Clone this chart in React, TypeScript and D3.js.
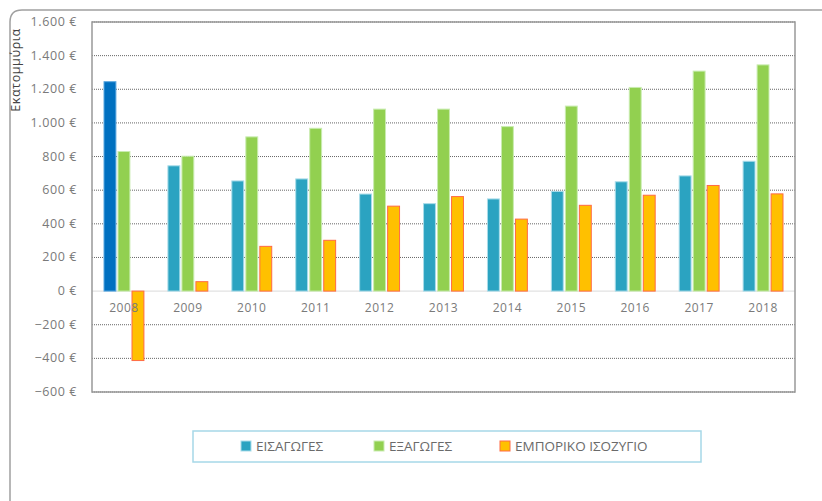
import { useMemo } from "react";
import * as d3 from "d3";

const years = ["2008", "2009", "2010", "2011", "2012", "2013", "2014", "2015", "2016", "2017", "2018"];
const imports = [1245, 745, 655, 667, 577, 520, 548, 593, 650, 685, 772];
const exports = [830, 802, 917, 968, 1082, 1082, 978, 1100, 1211, 1308, 1345];
const balance = [-413, 56, 266, 302, 505, 562, 428, 510, 570, 628, 578];
const seriesNames = ["ΕΙΣΑΓΩΓΕΣ", "ΕΞΑΓΩΓΕΣ", "ΕΜΠΟΡΙΚΟ ΙΣΟΖΥΓΙΟ"];
const yTicks = [-600, -400, -200, 0, 200, 400, 600, 800, 1000, 1200, 1400, 1600];

const W = 822;
const H = 501;
const PLOT = { left: 92, right: 795, top: 22, bottom: 392 };
const FONT = "'Open Sans', 'Noto Sans', sans-serif";

const fills = ["#2ba3c1", "#92d050", "#ffc000"];
const strokes = ["#a9dcea", "#c9ecb0", "#ff6a45"];
const highlight = "#0070c0"; // η πρώτη μπάρα εισαγωγών είναι πιο σκούρα

const locale = d3.formatLocale({
  decimal: ",",
  thousands: ".",
  grouping: [3],
  currency: ["", " €"],
  minus: "\u2212",
});
const fmt = locale.format("$,.0f");

export default function App() {
  const { x, inner, y } = useMemo(() => {
    const x = d3.scaleBand().domain(years).range([PLOT.left, PLOT.right]).padding(0);
    const inner = d3
      .scaleBand<number>()
      .domain([0, 1, 2])
      .range([12, x.bandwidth() - 12])
      .paddingInner(0.15);
    const y = d3.scaleLinear().domain([-600, 1600]).range([PLOT.bottom, PLOT.top]);
    return { x, inner, y };
  }, []);

  const series = [imports, exports, balance];

  return (
    <svg
      width={W}
      height={H}
      style={{ position: "absolute", left: 0, top: 0, background: "#fff" }}
      fontFamily={FONT}
    >
      {/* εξωτερικό πλαίσιο */}
      <path
        d={`M10,${H} L10,22 Q10,10 22,10 L${W},10`}
        fill="none"
        stroke="#a0a0a0"
        strokeWidth={1.5}
      />

      {/* γραμμές πλέγματος */}
      {yTicks.map((t) =>
        t === 0 ? (
          <line key={t} x1={PLOT.left} x2={PLOT.right} y1={y(t)} y2={y(t)} stroke="#e2e2e2" strokeWidth={1.2} />
        ) : (
          <line
            key={t}
            x1={PLOT.left}
            x2={PLOT.right}
            y1={y(t)}
            y2={y(t)}
            stroke="#666"
            strokeWidth={1}
            strokeDasharray="1,1"
          />
        )
      )}

      {/* μπάρες */}
      {years.map((yr, i) => (
        <g key={yr} transform={`translate(${x(yr)},0)`}>
          {series.map((s, k) => {
            const v = s[i];
            const y0 = y(Math.max(0, v));
            const h = Math.abs(y(v) - y(0));
            const fill = k === 0 && i === 0 ? highlight : fills[k];
            const stroke = k === 0 && i === 0 ? "#5aa7e0" : strokes[k];
            return (
              <rect
                key={k}
                x={inner(k)}
                y={y0}
                width={inner.bandwidth()}
                height={h}
                fill={fill}
                stroke={stroke}
                strokeWidth={1}
              />
            );
          })}
          <text
            x={x.bandwidth() / 2}
            y={y(0) + 21}
            textAnchor="middle"
            fontSize={12}
            fill="#7a7a7a"
            letterSpacing={0.5}
          >
            {yr}
          </text>
        </g>
      ))}

      {/* πλαίσιο περιοχής σχεδίασης */}
      <rect
        x={PLOT.left}
        y={PLOT.top}
        width={PLOT.right - PLOT.left}
        height={PLOT.bottom - PLOT.top}
        fill="none"
        stroke="#999"
        strokeWidth={1.5}
      />

      {/* ετικέτες άξονα y */}
      {yTicks.map((t) => (
        <text
          key={t}
          x={77}
          y={y(t) + 4}
          textAnchor="end"
          fontSize={12.5}
          fill="#7a7a7a"
          letterSpacing={0.6}
        >
          {fmt(t)}
        </text>
      ))}

      <text
        transform="translate(20,70) rotate(-90)"
        textAnchor="middle"
        fontSize={12.5}
        fill="#444"
        letterSpacing={0.6}
      >
        Εκατομμύρια
      </text>

      {/* υπόμνημα */}
      <rect x={193} y={431} width={508} height={31} fill="none" stroke="#a6d8e8" strokeWidth={1.5} />
      {seriesNames.map((name, k) => {
        const lx = [241, 374, 500][k];
        return (
          <g key={name}>
            <rect x={lx} y={441} width={10} height={10} fill={fills[k]} stroke={strokes[k]} strokeWidth={1} />
            <text x={lx + 15} y={451} fontSize={13.5} fill="#6a6a6a">
              {name}
            </text>
          </g>
        );
      })}
    </svg>
  );
}
